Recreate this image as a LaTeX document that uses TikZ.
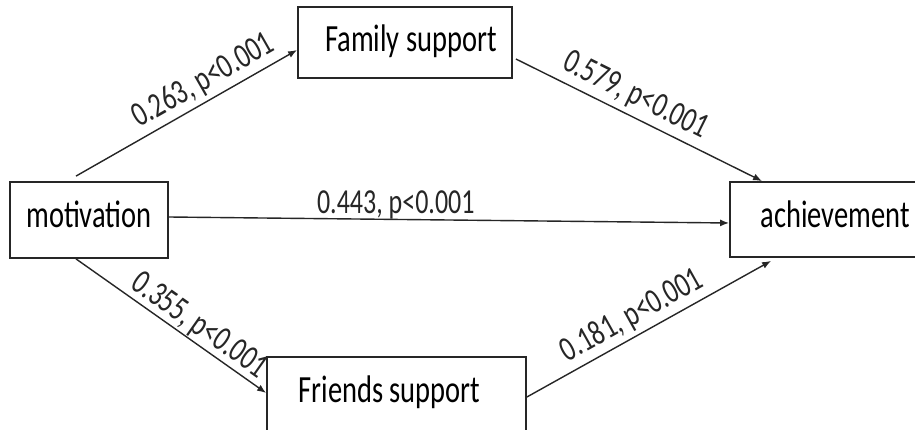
\documentclass[tikz,border=0pt]{standalone}
\usepackage{fontspec}
\usepackage{graphicx}
\setmainfont{Carlito}
\usetikzlibrary{arrows.meta}
\newcommand{\vstretch}[1]{\scalebox{1}[1.35]{#1}}
\tikzset{
  box/.style={draw=black!85, line width=1.8pt, rectangle, inner sep=0pt,
    font=\fontsize{28.5}{30}\selectfont},
  conn/.style={draw=black!85, line width=1.4pt, -{Latex[length=9pt,width=7pt]}},
  lab/.style={font=\fontsize{26}{28}\selectfont, inner sep=1pt, text=black!85}
}
\begin{document}
\begin{tikzpicture}[x=1pt,y=-1pt]
\useasboundingbox (0,0) rectangle (915,430);
\clip (0,0) rectangle (915,430);
\fill[white] (0,0) rectangle (915,430);
\node[box, minimum width=158pt, minimum height=76pt, text height=27pt, text depth=11pt] (mot) at (89,220) {\vstretch{motivation}};
\node[box, minimum width=214pt, minimum height=71pt, text height=27pt, text depth=8pt] (fam) at (405,42.5) {\hspace*{12pt}\vstretch{Family support}};
\node[box, minimum width=210pt, minimum height=75pt, text height=27pt, text depth=10pt] (ach) at (835,219.5) {\vstretch{achievement}};
\node[box, minimum width=259pt, minimum height=83pt, text height=30pt, text depth=23pt] (fri) at (396.5,398.5) {\vstretch{Friends support}\hspace*{14pt}};
\draw[conn] ([xshift=-13pt,yshift=5pt]mot.north) -- node[lab, above=3pt, sloped, pos=0.62] (l1) {\vstretch{0.263, p<0.001}} ([yshift=-7.5pt]fam.west);
\draw[conn] ([xshift=3pt,yshift=-16.5pt]fam.east) -- node[lab, above=4pt, sloped, pos=0.45] (l2) {\vstretch{0.579, p<0.001}} ([xshift=33pt]ach.north west);
\draw[conn] ([yshift=3pt]mot.east) -- node[lab, above, pos=0.405, inner sep=0pt] (l3) {\vstretch{0.443, p<0.001}} ([yshift=-3.5pt]ach.west);
\draw[conn] ([xshift=-13pt]mot.south) -- node[lab, above, sloped, pos=0.6] (l4) {\vstretch{0.355, p<0.001}} ([yshift=5.5pt]fri.west);
\draw[conn] ([yshift=1.5pt]fri.east) -- node[lab, above=3pt, sloped, pos=0.47] (l5) {\vstretch{0.181, p<0.001}} ([xshift=42pt,yshift=-3pt]ach.south west);
\end{tikzpicture}
\end{document}
